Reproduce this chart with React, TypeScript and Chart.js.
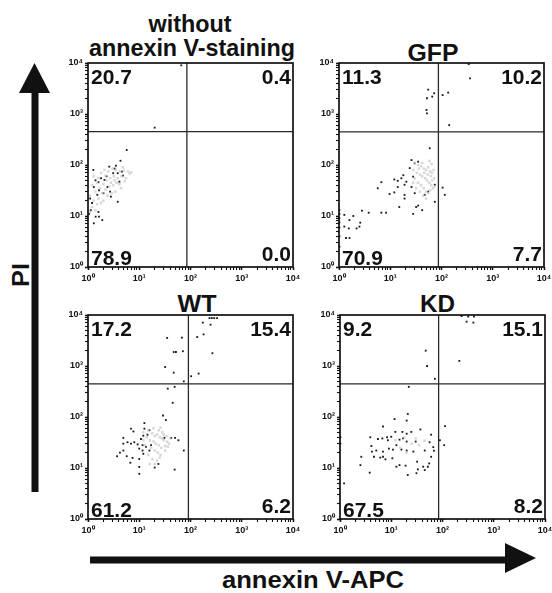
import React, { useEffect, useRef } from "react";
import { Chart, registerables } from "chart.js";

Chart.register(...registerables);

type Pt = [number, number];

// ---------- axis ticks ----------
const tickValues = [1, 10, 100, 1000, 10000];
const tickLabels = ["10⁰", "10¹", "10²", "10³", "10⁴"];

// ---------- panel titles & axis titles ----------
const panelTitles = ["annexin V-staining", "GFP", "WT", "KD"];
const panelTitleTop = "without";
const yAxisTitle = "PI";
const xAxisTitle = "annexin V-APC";

// ---------- quadrant gates [annexin, PI] ----------
const ctrlGate: Pt = [85, 450];
const gfpGate: Pt = [87, 445];
const wtGate: Pt = [91, 445];
const kdGate: Pt = [84, 445];

// ---------- quadrant percentages [UL, UR, LL, LR] ----------
const ctrlQuads = ["20.7", "0.4", "78.9", "0.0"];
const gfpQuads = ["11.3", "10.2", "70.9", "7.7"];
const wtQuads = ["17.2", "15.4", "61.2", "6.2"];
const kdQuads = ["9.2", "15.1", "67.5", "8.2"];

// ---------- events [annexin V-APC, PI] ----------
const ctrlBlack: Pt[] = [
  [5.7, 197], [4.3, 121], [2.6, 93], [3.5, 97], [4.6, 74], [3.8, 69], [4.1, 47], [3.1, 69],
  [2.1, 51], [1.6, 46], [1.64, 32], [2.4, 37], [1.52, 26], [1.3, 37], [1.27, 80], [1.2, 18],
  [1.13, 13], [1.41, 9.7], [1.64, 9.7], [1.3, 7.2], [1.9, 8.3], [1.6, 12], [3.8, 19], [2.8, 24],
  [2.0, 28], [20, 540], [66, 9000], [1.05, 11], [2.3, 60], [3.3, 85], [1.8, 55], [2.7, 30],
  [1.4, 50], [4.8, 62], [1.1, 22],
];
const ctrlGray: Pt[] = [
  [1.3, 60], [1.5, 45], [1.8, 70], [2.1, 80], [2.5, 75], [3, 85], [3.5, 80], [4.2, 75], [5, 78],
  [6, 75], [7, 72], [1.2, 40], [1.4, 30], [1.7, 35], [2, 42], [2.3, 50], [2.7, 55], [3.2, 60],
  [3.8, 55], [4.5, 60], [5.5, 55], [1.1, 25], [1.3, 20], [1.6, 22], [1.9, 28], [2.2, 33],
  [2.6, 38], [3.1, 40], [3.6, 45], [4.1, 42], [1.2, 15], [1.5, 17], [1.8, 18], [2.4, 25],
  [2.9, 28], [3.4, 30], [4.4, 35], [1.1, 12], [1.4, 13], [2.0, 20], [2.8, 45], [3.3, 50],
  [1.6, 55], [2.2, 62], [5.2, 48], [4.8, 90], [6.5, 68],
];

const gfpBlack: Pt[] = [
  [55, 3000], [72, 2550], [52, 2040], [66, 2190], [105, 2350], [135, 2630], [51, 1200], [52, 1030],
  [141, 605], [360, 5000], [340, 9500],
  [59, 213], [26, 125], [30, 108], [35, 116], [24, 87], [18, 63], [16.5, 55], [14, 49], [12, 52],
  [20.6, 47], [19, 41], [26, 37], [14, 37], [6.7, 46], [5.7, 35], [28, 59], [9.7, 27], [12, 29],
  [19, 26], [19, 22], [30, 28], [47, 26], [55, 30], [74, 41], [105, 36], [116, 26], [74, 19],
  [32, 15], [35, 16], [15, 15], [42, 13], [28, 11], [8.3, 11.6], [6.7, 11.6], [3.8, 11.6],
  [2.8, 12.7], [1.9, 10], [1.27, 10.5], [1.6, 8.3], [2.6, 7.4], [2.5, 6.2], [2.2, 5.7],
  [1.27, 6.2], [1.55, 5.7], [1.37, 3.7], [1.6, 3.7], [1.02, 13], [1.02, 9], [1.02, 6],
  [1.02, 4], [1.02, 2.5], [1.02, 11], [1.02, 7.5],
];
const gfpGray: Pt[] = [
  [30, 110], [35, 100], [40, 95], [45, 85], [50, 80], [55, 90], [60, 75], [65, 70], [70, 80],
  [28, 80], [33, 70], [38, 65], [42, 60], [48, 55], [52, 50], [58, 45], [63, 40], [68, 35],
  [73, 38], [30, 55], [35, 45], [40, 40], [45, 35], [50, 30], [55, 28], [60, 32], [32, 35],
  [38, 30], [44, 25], [50, 22], [28, 45], [62, 60], [66, 50], [72, 55], [46, 70], [54, 65],
  [36, 85], [42, 110], [58, 120], [64, 105],
];

const wtBlack: Pt[] = [
  [235, 8700], [260, 8700], [290, 8700], [330, 8700], [174, 7100], [246, 6450], [180, 4170],
  [135, 3700], [268, 1780], [68, 3600], [35, 3550], [47, 1880], [52, 1880], [71, 1950],
  [32, 955], [47, 740], [74, 500], [144, 710], [103, 630], [36, 360], [49, 390], [45, 190],
  [29, 107], [33, 87],
  [12.6, 76], [6.9, 59], [12.6, 59], [15.8, 55], [7.7, 52], [12, 43], [14.5, 45], [10.8, 37],
  [4.9, 39], [5.9, 32], [4.9, 30], [6.9, 30], [8, 32], [9.3, 29], [11.6, 28], [13.5, 26],
  [17, 28], [15.8, 22], [11.6, 22], [10, 24], [42, 39], [50, 39], [58, 35], [31, 39], [74, 22],
  [4.9, 22], [5.7, 17], [3.7, 17], [7.4, 15.8], [6.7, 12.7], [10, 15], [12, 19], [23.6, 12],
  [20, 10.2], [10, 10.5], [10, 7.7], [49, 9.3], [4.2, 20],
];
const wtGray: Pt[] = [
  [12, 50], [15, 55], [18, 48], [20, 42], [22, 45], [25, 40], [28, 38], [30, 35], [35, 33],
  [14, 40], [16, 35], [19, 33], [21, 30], [24, 28], [27, 25], [32, 27], [38, 30], [13, 28],
  [17, 25], [20, 22], [23, 20], [26, 18], [15, 18], [18, 15], [22, 14], [25, 16], [16, 12],
  [20, 12], [30, 45], [34, 42], [40, 38], [12, 35], [24, 55], [28, 50], [19, 60], [26, 62],
  [32, 22], [36, 26],
];

const kdBlack: Pt[] = [
  [236, 9500], [318, 9300], [410, 9300], [295, 7400], [400, 7100], [213, 1260], [47, 2000],
  [50, 1000], [71, 560], [22, 390],
  [21, 115], [11.6, 91], [20, 85], [6.9, 65], [12, 51], [16.5, 51], [20, 47], [24.6, 51],
  [37, 57], [60, 45], [10, 41], [8.3, 40], [8.6, 35], [6.7, 38], [5.5, 37], [3.9, 40],
  [14.5, 36], [17, 38], [20, 33], [30, 33], [56, 32], [4.1, 27], [5.1, 22], [4.2, 21],
  [6.9, 21], [9, 24], [10.8, 23], [12.6, 28], [15.8, 23], [20, 22], [27, 21], [45, 22],
  [66, 25.6], [68, 21.8], [2.6, 16.6], [4.6, 16.6], [6.9, 16.6], [6.1, 16], [7.7, 14.8],
  [10.5, 15.5], [60, 16.6], [2.5, 11.4], [32, 13.3], [55, 12.3], [12.6, 10.6], [14.5, 11.4],
  [19, 11.1], [42, 10.6], [52, 10.6], [33, 9.4], [45, 9.1], [31, 7.9], [21, 7.3], [3.8, 8.1],
  [1.2, 5.0], [112, 66], [108, 28], [89, 35], [1.02, 40], [1.02, 30],
];
const kdGray: Pt[] = [
  [12, 35], [18, 40], [25, 30], [15, 25], [30, 38], [20, 20], [35, 28], [45, 34],
];

// ---------- layout (plot-area rectangles in page pixels) ----------
const PLOT_W = 205;
const PLOT_H = 204;
const PAD_L = 34;
const PAD_T = 8;
const PAD_R = 14;
const PAD_B = 24;
const FONT = '"Liberation Sans", Arial, Helvetica, sans-serif';

const allTicks: number[] = (() => {
  const out: number[] = [];
  for (let d = 0; d < 4; d++) for (let m = 1; m <= 9; m++) out.push(m * Math.pow(10, d));
  out.push(10000);
  return out;
})();

type PanelProps = {
  black: Pt[];
  gray: Pt[];
  gate: Pt;
  quads: string[];
  left: number;
  top: number;
};

function FlowPanel({ black, gray, gate, quads, left, top }: PanelProps) {
  const ref = useRef<HTMLCanvasElement | null>(null);
  useEffect(() => {
    const canvas = ref.current;
    if (!canvas) return;
    const decor = {
      id: "flowDecor",
      afterDraw(chart: any) {
        const { ctx, chartArea: a, scales } = chart;
        const xs = scales.x;
        const ys = scales.y;
        ctx.save();
        // gates
        const gx = xs.getPixelForValue(gate[0]);
        const gy = ys.getPixelForValue(gate[1]);
        ctx.strokeStyle = "#2a2a2a";
        ctx.lineWidth = 1.3;
        ctx.beginPath();
        ctx.moveTo(gx, a.top);
        ctx.lineTo(gx, a.bottom);
        ctx.moveTo(a.left, gy);
        ctx.lineTo(a.right, gy);
        ctx.stroke();
        // frame
        ctx.strokeStyle = "#111";
        ctx.lineWidth = 1.7;
        ctx.strokeRect(a.left, a.top, a.right - a.left, a.bottom - a.top);
        // quadrant percentages
        ctx.fillStyle = "#111";
        ctx.font = `bold 21px ${FONT}`;
        ctx.textBaseline = "alphabetic";
        ctx.textAlign = "left";
        ctx.fillText(quads[0], a.left + 3, a.top + 21);
        ctx.fillText(quads[2], a.left + 3, a.bottom - 2);
        ctx.textAlign = "right";
        ctx.fillText(quads[1], a.right - 2, a.top + 21);
        ctx.fillText(quads[3], a.right - 2, a.bottom - 6);
        ctx.restore();
      },
    };
    const fixX = (s: any) => {
      s.height = PAD_B;
      s.paddingLeft = 0;
      s.paddingRight = 0;
      s.paddingTop = 0;
      s.paddingBottom = 0;
    };
    const fixY = (s: any) => {
      s.width = PAD_L;
      s.paddingLeft = 0;
      s.paddingRight = 0;
      s.paddingTop = 0;
      s.paddingBottom = 0;
    };
    const setTicks = (s: any) => {
      s.ticks = allTicks.map((v) => ({ value: v, major: tickValues.indexOf(v) >= 0 }));
    };
    const labelFor = (v: any) => {
      const i = tickValues.indexOf(Number(v));
      return i >= 0 ? tickLabels[i] : "";
    };
    const axisCommon = {
      type: "logarithmic" as const,
      min: 1,
      max: 10000,
      afterBuildTicks: setTicks,
      grid: {
        display: true,
        drawOnChartArea: false,
        drawTicks: true,
        tickLength: 3,
        color: "#111",
        tickColor: "#111",
        tickWidth: (c: any) => (c.tick && tickValues.indexOf(c.tick.value) >= 0 ? 1.6 : 1.1),
      },
      border: { display: false },
    };
    const chart = new Chart(canvas, {
      type: "scatter",
      data: {
        datasets: [
          {
            data: gray.map(([x, y]) => ({ x, y })),
            pointStyle: "rect",
            pointRadius: 1.8,
            pointBorderWidth: 0,
            backgroundColor: "rgba(200,200,200,0.7)",
            borderColor: "rgba(0,0,0,0)",
          },
          {
            data: black.map(([x, y]) => ({ x, y })),
            pointStyle: "rect",
            pointRadius: 1.3,
            pointBorderWidth: 0,
            backgroundColor: "#1a1a1a",
            borderColor: "rgba(0,0,0,0)",
          },
        ],
      },
      options: {
        responsive: false,
        animation: false,
        events: [],
        layout: { padding: { left: 0, top: PAD_T, right: PAD_R, bottom: 0 } },
        plugins: { legend: { display: false }, tooltip: { enabled: false }, title: { display: false } },
        scales: {
          x: {
            ...axisCommon,
            afterFit: fixX,
            ticks: {
              autoSkip: false,
              maxRotation: 0,
              padding: 3,
              color: "#111",
              font: { family: FONT, size: 9, weight: "bold" },
              callback: labelFor,
            },
          },
          y: {
            ...axisCommon,
            afterFit: fixY,
            ticks: {
              autoSkip: false,
              padding: 2,
              color: "#111",
              font: { family: FONT, size: 9, weight: "bold" },
              callback: labelFor,
            },
          },
        },
      } as any,
      plugins: [decor],
    });
    return () => chart.destroy();
  }, [black, gray, gate, quads]);

  const w = PLOT_W + PAD_L + PAD_R;
  const h = PLOT_H + PAD_T + PAD_B;
  return (
    <canvas
      ref={ref}
      width={w}
      height={h}
      style={{ position: "absolute", left: left - PAD_L, top: top - PAD_T, width: w, height: h }}
    />
  );
}

export default function App() {
  const textStyle = { fontFamily: FONT, fontWeight: 700, fontSize: 24, fill: "#111" } as const;
  return (
    <div
      style={{
        position: "absolute",
        left: 0,
        top: 0,
        width: 552,
        height: 593,
        background: "#fff",
        overflow: "hidden",
      }}
    >
      <svg width={552} height={593} style={{ position: "absolute", left: 0, top: 0 }}>
        {/* PI arrow */}
        <rect x={31.5} y={90} width={7} height={402} fill="#111" />
        <polygon points="19,93 50,93 34.5,63" fill="#111" />
        {/* annexin arrow */}
        <rect x={90} y={556.5} width={417} height={7} fill="#111" />
        <polygon points="505,543 505,573 536,558" fill="#111" />
        <text x={190} y={32} textAnchor="middle" textLength={83} lengthAdjust="spacingAndGlyphs" style={textStyle}>
          {panelTitleTop}
        </text>
        <text x={192} y={56} textAnchor="middle" textLength={206} lengthAdjust="spacingAndGlyphs" style={textStyle}>
          {panelTitles[0]}
        </text>
        <text x={433} y={61} textAnchor="middle" textLength={51} lengthAdjust="spacingAndGlyphs" style={textStyle}>
          {panelTitles[1]}
        </text>
        <text x={197} y={312} textAnchor="middle" textLength={39} lengthAdjust="spacingAndGlyphs" style={textStyle}>
          {panelTitles[2]}
        </text>
        <text x={437.5} y={312} textAnchor="middle" textLength={35} lengthAdjust="spacingAndGlyphs" style={textStyle}>
          {panelTitles[3]}
        </text>
        <text
          x={0}
          y={0}
          transform="translate(29,275) rotate(-90)"
          textAnchor="middle"
          textLength={24}
          lengthAdjust="spacingAndGlyphs"
          style={textStyle}
        >
          {yAxisTitle}
        </text>
        <text x={313} y={588} textAnchor="middle" textLength={182} lengthAdjust="spacingAndGlyphs" style={textStyle}>
          {xAxisTitle}
        </text>
      </svg>
      <FlowPanel black={ctrlBlack} gray={ctrlGray} gate={ctrlGate} quads={ctrlQuads} left={88} top={63} />
      <FlowPanel black={gfpBlack} gray={gfpGray} gate={gfpGate} quads={gfpQuads} left={339} top={63} />
      <FlowPanel black={wtBlack} gray={wtGray} gate={wtGate} quads={wtQuads} left={88} top={315} />
      <FlowPanel black={kdBlack} gray={kdGray} gate={kdGate} quads={kdQuads} left={340} top={315} />
    </div>
  );
}
